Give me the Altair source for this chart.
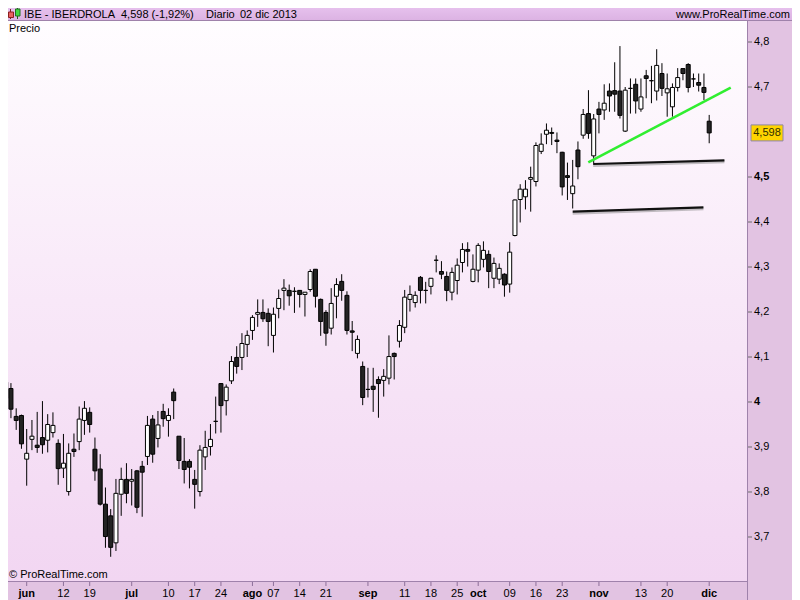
import altair as alt
import pandas as pd

# ---------------- data ----------------
FIRST_INDEX = -4  # trading-day index of first candle (0 = 3 jun 2013)

opens = [4.008, 4.030, 3.968, 3.970, 3.873, 3.917, 3.904, 3.921, 3.915, 3.932,
         3.908, 3.853, 3.801, 3.895, 3.912, 3.959, 3.977, 3.895, 3.851, 3.773,
         3.747, 3.687, 3.795, 3.828, 3.824, 3.847, 3.857, 3.879, 3.962, 3.919,
         3.979, 3.959, 4.022, 3.924, 3.868, 3.868, 3.828, 3.801, 3.878, 3.901,
         3.957, 4.041, 4.003, 4.047, 4.099, 4.099, 4.128, 4.159, 4.195, 4.199,
         4.197, 4.148, 4.208, 4.248, 4.248, 4.246, 4.248, 4.239, 4.250, 4.295,
         4.228, 4.199, 4.164, 4.235, 4.268, 4.237, 4.158, 4.108, 4.079, 4.028,
         4.035, 4.050, 4.048, 4.053, 4.108, 4.135, 4.166, 4.228, 4.221, 4.277,
         4.248, 4.257, 4.315, 4.290, 4.279, 4.244, 4.270, 4.310, 4.339, 4.268,
         4.293, 4.317, 4.328, 4.275, 4.273, 4.284, 4.262, 4.370, 4.450, 4.456,
         4.495, 4.490, 4.557, 4.595, 4.599, 4.582, 4.555, 4.503, 4.463, 4.560,
         4.593, 4.641, 4.547, 4.651, 4.649, 4.691, 4.692, 4.691, 4.602, 4.697,
         4.706, 4.651, 4.725, 4.714, 4.691, 4.730, 4.687, 4.656, 4.699, 4.741,
         4.750, 4.718, 4.710, 4.699, 4.624]
highs = [4.077, 4.042, 3.986, 3.972, 3.940, 3.960, 3.978, 4.002, 3.973, 3.977,
         3.917, 3.929, 3.908, 3.930, 3.990, 4.002, 3.988, 3.921, 3.884, 3.810,
         3.762, 3.829, 3.854, 3.864, 3.851, 3.849, 3.869, 3.969, 3.971, 3.980,
         3.996, 3.986, 4.030, 3.924, 3.920, 3.873, 3.849, 3.904, 3.936, 3.951,
         4.012, 4.042, 4.039, 4.102, 4.124, 4.153, 4.159, 4.193, 4.228, 4.228,
         4.208, 4.210, 4.250, 4.273, 4.261, 4.255, 4.248, 4.244, 4.295, 4.295,
         4.230, 4.204, 4.253, 4.275, 4.284, 4.246, 4.180, 4.148, 4.090, 4.076,
         4.076, 4.057, 4.073, 4.148, 4.110, 4.182, 4.249, 4.259, 4.246, 4.280,
         4.267, 4.275, 4.326, 4.313, 4.290, 4.299, 4.319, 4.353, 4.355, 4.328,
         4.353, 4.357, 4.337, 4.321, 4.308, 4.286, 4.355, 4.450, 4.484, 4.493,
         4.523, 4.577, 4.597, 4.619, 4.610, 4.599, 4.556, 4.532, 4.538, 4.579,
         4.651, 4.693, 4.640, 4.667, 4.706, 4.708, 4.755, 4.791, 4.700, 4.719,
         4.719, 4.719, 4.738, 4.747, 4.784, 4.753, 4.730, 4.708, 4.742, 4.741,
         4.753, 4.730, 4.730, 4.730, 4.638]
lows = [4.001, 3.964, 3.938, 3.896, 3.814, 3.893, 3.887, 3.885, 3.888, 3.921,
        3.816, 3.831, 3.792, 3.878, 3.893, 3.927, 3.932, 3.825, 3.770, 3.676,
        3.656, 3.669, 3.747, 3.775, 3.770, 3.753, 3.745, 3.860, 3.865, 3.899,
        3.945, 3.923, 3.962, 3.851, 3.819, 3.808, 3.763, 3.790, 3.849, 3.881,
        3.930, 3.932, 3.970, 4.040, 4.063, 4.071, 4.100, 4.138, 4.167, 4.178,
        4.124, 4.110, 4.186, 4.204, 4.214, 4.198, 4.210, 4.190, 4.245, 4.210,
        4.147, 4.125, 4.150, 4.186, 4.225, 4.150, 4.113, 4.097, 3.993, 4.010,
        3.978, 3.965, 4.012, 4.039, 4.050, 4.121, 4.153, 4.201, 4.210, 4.219,
        4.219, 4.239, 4.288, 4.273, 4.224, 4.226, 4.239, 4.288, 4.301, 4.266,
        4.266, 4.299, 4.253, 4.253, 4.262, 4.234, 4.243, 4.368, 4.399, 4.428,
        4.423, 4.479, 4.551, 4.573, 4.571, 4.553, 4.459, 4.449, 4.430, 4.495,
        4.585, 4.585, 4.530, 4.597, 4.627, 4.645, 4.645, 4.630, 4.600, 4.641,
        4.641, 4.645, 4.675, 4.664, 4.670, 4.680, 4.634, 4.634, 4.690, 4.715,
        4.688, 4.700, 4.690, 4.671, 4.575]
closes = [4.044, 3.984, 3.959, 3.907, 3.886, 3.924, 3.899, 3.905, 3.950, 3.948,
          3.852, 3.864, 3.886, 3.890, 3.962, 3.986, 3.950, 3.847, 3.773, 3.701,
          3.677, 3.797, 3.828, 3.797, 3.828, 3.766, 3.844, 3.948, 3.884, 3.949,
          3.963, 3.970, 4.003, 3.870, 3.850, 3.855, 3.817, 3.893, 3.899, 3.917,
          3.957, 3.992, 4.033, 4.090, 4.079, 4.130, 4.148, 4.188, 4.199, 4.185,
          4.179, 4.195, 4.230, 4.253, 4.236, 4.246, 4.239, 4.244, 4.290, 4.235,
          4.179, 4.153, 4.219, 4.261, 4.248, 4.159, 4.155, 4.139, 4.010, 4.028,
          4.028, 4.041, 4.057, 4.101, 4.101, 4.170, 4.233, 4.239, 4.237, 4.248,
          4.248, 4.275, 4.315, 4.284, 4.248, 4.288, 4.304, 4.339, 4.335, 4.295,
          4.348, 4.337, 4.290, 4.308, 4.297, 4.260, 4.333, 4.449, 4.473, 4.473,
          4.499, 4.570, 4.573, 4.604, 4.597, 4.579, 4.478, 4.499, 4.480, 4.523,
          4.639, 4.597, 4.629, 4.639, 4.664, 4.680, 4.684, 4.637, 4.693, 4.697,
          4.669, 4.678, 4.719, 4.714, 4.748, 4.697, 4.696, 4.699, 4.721, 4.730,
          4.699, 4.718, 4.704, 4.688, 4.598]

# x-axis ticks (trading-day index) and their labels
tick_pos = [0, 7, 12, 20, 27, 32, 37, 43, 47, 52, 57, 65, 72, 77, 82, 86,
            92, 97, 102, 109, 117, 122, 130]
tick_labels = ["jun", "12", "19", "jul", "10", "17", "24", "ago", "07", "14",
               "21", "sep", "11", "18", "25", "oct", "09", "16", "23", "nov",
               "13", "20", "dic"]
month_labels = ["jun", "jul", "ago", "sep", "oct", "nov", "dic"]

y_ticks = [3.7, 3.8, 3.9, 4.0, 4.1, 4.2, 4.3, 4.4, 4.5, 4.7, 4.8]
y_tick_labels = ["3,7", "3,8", "3,9", "4", "4,1", "4,2", "4,3", "4,4", "4,5", "4,7", "4,8"]
y_bold = ["4", "4,5"]

# drawn trend lines (index, price)
green_x = [106.97, 134.1]
green_y = [4.5327, 4.6984]
sup1_x = [107.9, 132.9]
sup1_y = [4.5289, 4.5370]
sup2_x = [104.0, 128.9]
sup2_y = [4.4229, 4.4326]

ticker = "IBE - IBERDROLA"
last_price = 4.598
last_label = "4,598"
last_text = "4,598 (-1,92%)"
period_text = "Diario"
date_text = "02 dic 2013"
site_text = "www.ProRealTime.com"
panel_text = "Precio"
copy_text = "\u00a9 ProRealTime.com"

# ---------------- build chart ----------------
W, H = 747, 560
FONT = "Liberation Sans"
xdom = [-5.086, 137.2]
ydom = [3.6022, 4.8467]
xs = alt.Scale(domain=xdom, nice=False, zero=False, padding=0)
ys = alt.Scale(domain=ydom, nice=False, zero=False, padding=0)

n = len(opens)
df = pd.DataFrame({
    "i": list(range(FIRST_INDEX, FIRST_INDEX + n)),
    "open": opens, "high": highs, "low": lows, "close": closes,
})
df["up"] = df["close"] >= df["open"]

one = pd.DataFrame({"k": [0]})

PANEL = "#e2c3e2"
BORDER = "#9f82ab"
HY = -6  # header text middle, relative to plot top


def rect(x1, x2, y1, y2, **kw):
    return alt.Chart(one).mark_rect(**kw).encode(
        x=alt.value(x1), x2=alt.value(x2), y=alt.value(y1), y2=alt.value(y2))


def rule(x1, x2, y1, y2, color=BORDER, width=1):
    return alt.Chart(one).mark_rule(color=color, strokeWidth=width).encode(
        x=alt.value(x1), x2=alt.value(x2), y=alt.value(y1), y2=alt.value(y2))


def label(txt, x, y, size=11, weight="normal", align="left", color="#000"):
    return alt.Chart(one).mark_text(
        text=txt, align=align, baseline="middle", font=FONT, fontSize=size,
        fontWeight=weight, color=color).encode(x=alt.value(x), y=alt.value(y))


plot_bg = rect(0, W, 0, H, fill=alt.LinearGradient(
    gradient="linear",
    stops=[alt.GradientStop(color="#fffdff", offset=0),
           alt.GradientStop(color="#f8e8f8", offset=0.5),
           alt.GradientStop(color="#f2d6f2", offset=1)],
    x1=0, x2=0, y1=0, y2=1))
header_bg = rect(0, 800, -21, -1, fill=alt.LinearGradient(
    gradient="linear",
    stops=[alt.GradientStop(color="#ecc9f3", offset=0),
           alt.GradientStop(color="#dcb3e3", offset=1)],
    x1=0, x2=0, y1=0, y2=1))
right_bg = rect(W, 800, -1, H + 20, fill=PANEL)
bottom_bg = rect(0, W, H, H + 20, fill=PANEL)

borders = [
    rule(0, 800, -0.5, -0.5),
    rule(W + 0.5, W + 0.5, -1, H + 20),
    rule(0, W, H + 0.5, H + 0.5),
    rule(798.5, 798.5, -21, H + 20),
]

# header icon (small red and green candles)
icon = [
    rule(10.5, 10.5, -12, -2, color="#7a2020"),
    rect(8.5, 13.5, -9, -3.5, fill="#e86060", stroke="#8a2020", strokeWidth=1),
    rule(17.5, 17.5, -14, -2, color="#206020"),
    rect(15.5, 20, -12, -5, fill="#40d840", stroke="#207020", strokeWidth=1),
]

# ---- x "axis": ticks and labels through the x scale ----
xt = pd.DataFrame({"pos": tick_pos, "lab": tick_labels})
xt["month"] = xt["lab"].isin(month_labels)
x_ticks = alt.Chart(xt).mark_rule(color="#8d6f99", strokeWidth=1).encode(
    x=alt.X("pos:Q", scale=xs, axis=None), y=alt.value(H + 1), y2=alt.value(H + 5))


def x_lab_layer(is_month):
    return alt.Chart(xt).transform_filter(
        "datum.month" if is_month else "!datum.month"
    ).mark_text(
        font=FONT, fontSize=11, color="#000", align="center", baseline="middle",
        fontWeight="bold" if is_month else "normal").encode(
        x=alt.X("pos:Q", scale=xs, axis=None), y=alt.value(H + 12.5), text="lab:N")


# ---- y "axis": ticks and labels through the y scale ----
yt = pd.DataFrame({"v": y_ticks, "lab": y_tick_labels})
yt["bold"] = yt["lab"].isin(y_bold)
y_tick_marks = alt.Chart(yt).mark_rule(color="#6d6d6d", strokeWidth=1).encode(
    y=alt.Y("v:Q", scale=ys, axis=None), x=alt.value(W + 1), x2=alt.value(W + 5))


def y_lab_layer(is_bold):
    return alt.Chart(yt).transform_filter(
        "datum.bold" if is_bold else "!datum.bold"
    ).mark_text(
        font=FONT, fontSize=11, color="#000", align="left", baseline="middle",
        fontWeight="bold" if is_bold else "normal").encode(
        y=alt.Y("v:Q", scale=ys, axis=None), x=alt.value(W + 7), text="lab:N")


base = alt.Chart(df)
wicks = base.mark_rule(color="#000", strokeWidth=1).encode(
    x=alt.X("i:Q", scale=xs, axis=None),
    y=alt.Y("low:Q", scale=ys, axis=None),
    y2="high:Q",
)
bodies = base.mark_bar(size=4, stroke="#000", strokeWidth=1).encode(
    x=alt.X("i:Q", scale=xs, axis=None),
    y=alt.Y("open:Q", scale=ys, axis=None),
    y2="close:Q",
    fill=alt.condition("datum.up", alt.value("#ffffff"), alt.value("#232323")),
)


def tline(xv, yv, color, width, **kw):
    d = pd.DataFrame({"x": xv, "y": yv})
    return alt.Chart(d).mark_line(color=color, strokeWidth=width, **kw).encode(
        x=alt.X("x:Q", scale=xs, axis=None), y=alt.Y("y:Q", scale=ys, axis=None))


lines = [
    tline(sup1_x, sup1_y, "#888", 3, opacity=0.5, yOffset=1.5),
    tline(sup2_x, sup2_y, "#888", 3, opacity=0.5, yOffset=1.5),
    tline(sup1_x, sup1_y, "#111", 2.2),
    tline(sup2_x, sup2_y, "#111", 2.2),
    tline(green_x, green_y, "#30ee30", 2.5),
]

price_df = pd.DataFrame({"p": [last_price], "t": [last_label]})
price_box = alt.Chart(price_df).mark_rect(
    fill="#ffd400", stroke="#8f86a6", strokeWidth=1, yOffset=-8, y2Offset=8).encode(
    x=alt.value(751), x2=alt.value(783),
    y=alt.Y("p:Q", scale=ys, axis=None), y2="p:Q")
price_txt = alt.Chart(price_df).mark_text(
    font=FONT, fontSize=11, color="#303000", align="center", baseline="middle").encode(
    x=alt.value(767), y=alt.Y("p:Q", scale=ys, axis=None), text="t:N")

texts = [
    label(ticker, 24, HY),
    label(last_text, 121, HY),
    label(period_text, 206, HY),
    label(date_text, 240, HY),
    label(site_text, 790, HY, align="right"),
    label(panel_text, 9, 8),
    label(copy_text, 9, 554),
]

chart = alt.layer(
    plot_bg, header_bg, right_bg, bottom_bg, *borders, *icon,
    wicks, bodies, *lines, price_box, price_txt,
    x_ticks, x_lab_layer(True), x_lab_layer(False),
    y_tick_marks, y_lab_layer(True), y_lab_layer(False), *texts,
).properties(
    width=W, height=H,
    padding={"left": -8, "top": 13, "right": 45, "bottom": 19},
    autosize=alt.AutoSizeParams(type="none"),
    background="#ffffff",
).configure_view(strokeWidth=0)

chart.save("out.html", embed_options={"renderer": "svg", "actions": False})
